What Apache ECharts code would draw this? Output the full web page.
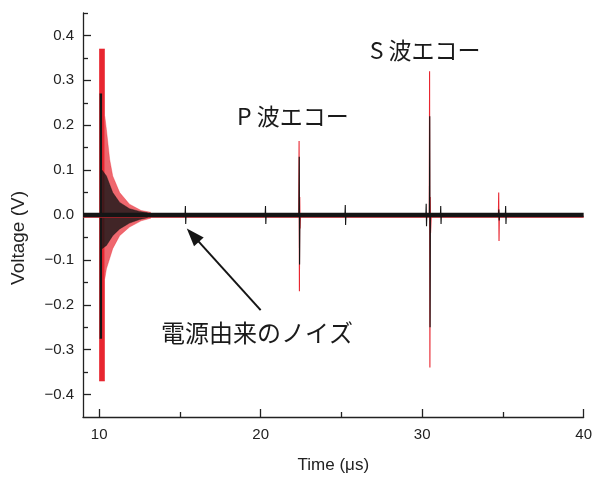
<!DOCTYPE html>
<html>
<head>
<meta charset="utf-8">
<script src="https://cdn.jsdelivr.net/npm/echarts@6/dist/echarts.min.js"></script>
<style>
  html, body { margin: 0; padding: 0; background: #fff; }
  #chart { width: 595px; height: 479px; }
</style>
</head>
<body>
<div id="chart"></div>
<script>
// envelopes of the two traces: [time (us), lower V, upper V]
const redBurst = [[10.00, -0.37, 0.37], [10.35, -0.37, 0.37]];
const redRinging = [
  [10.35, -0.142, 0.22], [10.45, -0.12, 0.19], [10.65, -0.097, 0.124],
  [10.84, -0.075, 0.087], [11.27, -0.046, 0.05], [11.88, -0.027, 0.024],
  [12.6, -0.013, 0.01], [13.2, -0.007, 0.006]
];
const blackBurst = [[10.03, -0.275, 0.27], [10.18, -0.275, 0.27]];
const blackRinging = [
  [10.18, -0.075, 0.1], [10.45, -0.068, 0.087], [10.84, -0.046, 0.05],
  [11.27, -0.031, 0.028], [11.88, -0.018, 0.014], [12.5, -0.01, 0.008],
  [13.0, -0.006, 0.005]
];
// echoes and noise spikes: [time (us), V]
const redSpikes = [
  [22.36, 0], [22.38, 0.165], [22.40, -0.17], [22.42, 0.04], [22.44, -0.03], [22.46, 0],
  [30.44, 0], [30.46, 0.32], [30.48, -0.34], [30.50, 0.04], [30.52, -0.04], [30.56, 0],
  [34.72, 0], [34.74, 0.05], [34.76, -0.058], [34.78, 0]
];
const blackSpikes = [
  [15.32, 0], [15.34, 0.02], [15.36, -0.02], [15.38, 0],
  [20.28, 0], [20.30, 0.02], [20.32, -0.02], [20.34, 0],
  [22.37, 0], [22.39, 0.13], [22.41, -0.11], [22.43, 0],
  [25.22, 0], [25.24, 0.022], [25.26, -0.022], [25.28, 0],
  [30.23, 0], [30.25, 0.025], [30.27, -0.025], [30.29, 0],
  [30.45, 0], [30.47, 0.22], [30.49, -0.25], [30.51, 0],
  [31.13, 0], [31.15, 0.02], [31.17, -0.02], [31.19, 0],
  [34.73, 0], [34.75, 0.012], [34.77, -0.012], [34.79, 0],
  [35.15, 0], [35.17, 0.02], [35.19, -0.02], [35.21, 0]
];
const redBase = [[9, -0.004], [40, -0.004]];
const blackBase = [[9, 0.0], [40, 0.0]];

const xMajor = [10, 20, 30, 40];
const xMinor = [15, 25, 35];
const yMajor = [-0.4, -0.3, -0.2, -0.1, 0, 0.1, 0.2, 0.3, 0.4];
const yMinor = [-0.35, -0.25, -0.15, -0.05, 0.05, 0.15, 0.25, 0.35, 0.45];

// annotations: [time, V]
const arrowFrom = [20.0, -0.212];
const arrowTo = [15.8, -0.045];
const notes = [
  { text: 'S 波エコー', at: [30.18, 0.367], size: 23 },
  { text: 'P 波エコー', at: [21.99, 0.221], size: 23 },
  { text: '電源由来のノイズ', at: [19.77, -0.263], size: 24 }
];

const RED = 'rgb(232,38,48)';
const INK = '#151515';
const latin = '"Liberation Sans", Arial, sans-serif';
const cjk = '"Noto Sans CJK JP", sans-serif';

const chart = echarts.init(document.getElementById('chart'));

function band(env, idx, color, opacity) {
  return {
    type: 'line',
    data: env.map(r => [r[0], r[idx]]),
    showSymbol: false,
    silent: true,
    lineStyle: { width: 0.5, color: color, opacity: opacity },
    areaStyle: { color: color, opacity: opacity }
  };
}
function trace(data, color, width) {
  return {
    type: 'line',
    data: data,
    showSymbol: false,
    silent: true,
    lineStyle: { width: width, color: color }
  };
}

const axisLine = { show: true, onZero: false, lineStyle: { color: '#222', width: 1.3 } };
const tickStyle = { color: '#222', width: 1.3 };

const option = {
  animation: false,
  backgroundColor: '#fff',
  grid: { left: 83, right: 9, top: 13, bottom: 59 },
  xAxis: [{
    type: 'value', min: 9, max: 40,
    axisLine: axisLine,
    splitLine: { show: false },
    axisTick: { inside: true, length: 8, customValues: xMajor, lineStyle: tickStyle },
    axisLabel: { customValues: xMajor, margin: 10, fontSize: 15, color: '#222', fontFamily: latin },
    name: 'Time (μs)', nameLocation: 'middle', nameGap: 40,
    nameTextStyle: { fontSize: 17, color: '#222', fontFamily: latin }
  }, {
    type: 'value', min: 9, max: 40, position: 'bottom',
    axisLine: { show: false, onZero: false }, splitLine: { show: false },
    axisTick: { inside: true, length: 5, customValues: xMinor, lineStyle: tickStyle },
    axisLabel: { show: false }
  }],
  yAxis: [{
    type: 'value', min: -0.45, max: 0.45, position: 'left',
    axisLine: axisLine,
    splitLine: { show: false },
    axisTick: { inside: true, length: 8, customValues: yMajor, lineStyle: tickStyle },
    axisLabel: {
      customValues: yMajor, margin: 9, fontSize: 15, color: '#222', fontFamily: latin,
      formatter: v => (v < -1e-9 ? '\u2212' : '') + Math.abs(v).toFixed(1)
    }
  }, {
    type: 'value', min: -0.45, max: 0.45, position: 'left',
    axisLine: { show: false, onZero: false }, splitLine: { show: false },
    axisTick: { inside: true, length: 5, customValues: yMinor, lineStyle: tickStyle },
    axisLabel: { show: false }
  }],
  series: [
    band(redRinging, 2, RED, 0.7),
    band(redRinging, 1, RED, 0.7),
    band(redBurst, 2, RED, 1),
    band(redBurst, 1, RED, 1),
    trace(redSpikes, RED, 1.1),
    trace(redBase, RED, 2),
    Object.assign(trace(blackBase, INK, 4.5), {
      markLine: {
        silent: true,
        symbol: ['none', 'triangle'],
        symbolSize: [13, 18],
        label: { show: false },
        lineStyle: { color: INK, width: 2, type: 'solid' },
        data: [[{ coord: arrowFrom }, { coord: arrowTo }]]
      }
    }),
    band(blackRinging, 2, '#151515', 0.8),
    band(blackRinging, 1, '#151515', 0.8),
    band(blackBurst, 2, INK, 1),
    band(blackBurst, 1, INK, 1),
    trace(blackSpikes, INK, 1.1)
  ]
};
chart.setOption(option);

const graphics = notes.map(n => {
  const p = chart.convertToPixel({ gridIndex: 0 }, n.at);
  return {
    type: 'text', x: p[0], y: p[1], silent: true,
    style: { text: n.text, fill: '#1a1a1a', font: n.size + 'px ' + cjk, align: 'center', verticalAlign: 'middle' }
  };
});
graphics.push({
  type: 'text', x: 19, y: 238, rotation: Math.PI / 2, silent: true,
  style: { text: 'Voltage (V)', fill: '#222', font: '19px ' + latin, align: 'center', verticalAlign: 'middle' }
});
chart.setOption({ graphic: graphics });
</script>
</body>
</html>
